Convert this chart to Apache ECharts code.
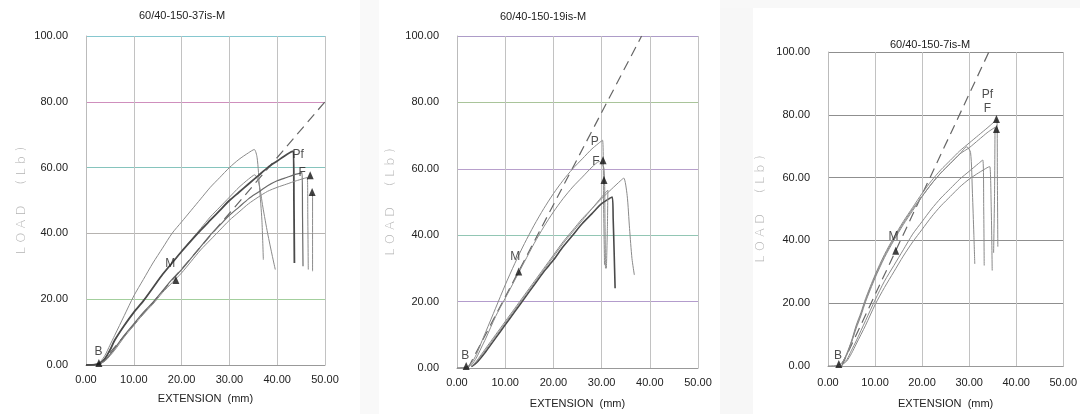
<!DOCTYPE html>
<html><head><meta charset="utf-8">
<script src="https://cdn.jsdelivr.net/npm/echarts@6/dist/echarts.min.js"></script>
<style>html,body{margin:0;padding:0;background:#fff}#c{width:1080px;height:414px}</style>
</head><body><div id="c"></div>
<script>
// ---------- data ----------
const titles = ['60/40-150-37is-M', '60/40-150-19is-M', '60/40-150-7is-M'];
const xTicks = [0, 10, 20, 30, 40, 50];
const yTicks = [0, 20, 40, 60, 80, 100];

// Panel 1 (37is)
const p1_dash = [[2.8, 0], [50, 80]];
const p1_a = [[0,0],[2,0.3],[3,1],[4,3],[5,6],[6,9],[8,15],[10,21],[12,26],[14,31],[16,35.5],[18,40],[20,43.5],[22,47],[24,50.5],[26,54],[28,57],[30,60],[32,62.5],[34,64.5],[35.2,65.5],[35.8,63],[36.3,54],[36.8,44],[37.1,32]];
const p1_b = [[0,0],[2,0.1],[3,0.6],[4,2],[5,4.5],[6,7.5],[8,12],[10,16],[12,19.5],[14,23.5],[16,27.5],[18,31],[20,34.5],[22,37.8],[24,41],[26,44],[28,47],[30,50],[32,52.5],[34,55],[36,57.5],[38,60],[40,62],[42,64],[43.4,65],[43.5,50],[43.6,31]];
const p1_c = [[3,0.6],[4,2],[5,4.5],[6,7.5],[8,12],[10,16],[12,19.5],[14,23.5],[16,27.5],[18,31],[20,34.5],[22,38],[24,41.5],[26,45],[28,48],[30,51],[32,54],[34,56.5],[35.3,57.8],[36.2,55],[37,48],[38,40],[39,33],[39.6,29]];
const p1_d = [[3,0.5],[4,1.5],[6,5],[8,9],[10,12.5],[12,16],[14,19],[16,22.5],[18,26],[20,29],[22,32.5],[24,36],[26,39.5],[28,42.5],[30,45.5],[32,48],[34,50.5],[36,52.5],[38,54.5],[40,56],[42,57],[44,58],[45.2,58.5],[45.3,45],[45.4,30]];
const p1_e = [[3,0.4],[4,1.2],[6,4.5],[8,8.5],[10,12],[12,15.5],[14,18.5],[16,22],[18,25],[20,28],[22,31.5],[24,35],[26,38],[28,41],[30,44],[32,46.5],[34,49],[36,51],[38,52.8],[40,54],[42,55],[44,56],[46.3,57],[46.4,45],[46.5,29]];
const p1_f = [[47.4, 52], [47.4, 28.5]];
const p1_tri = [[2.7,0.6],[18.8,25.8],[46.9,57.7],[47.3,52.6]];
const p1_lab = [['B',2.6,4],['M',17.6,30.8],['Pf',44.4,63.8],['F',45.2,58.4]];

// Panel 2 (19is)
const p2_dash = [[2.3, 0], [38.3, 100]];
const p2_p = [[0,0],[2,0.3],[3,1.5],[4,4],[5,7.5],[6,11],[8,18],[10,25],[12,31.5],[14,37.5],[16,43],[18,48],[20,52.5],[22,56.5],[24,60],[26,63],[28,66],[30.2,68.6],[30.4,50],[30.6,31]];
const p2_f = [[0,0],[2,0.3],[3,1],[4,3],[5,6],[6,9],[8,15.5],[10,21],[12,26.5],[14,32],[16,37.5],[18,42.5],[20,47],[22,51],[24,54.5],[26,57.5],[28,60.5],[29.5,62.2],[30.5,60],[30.7,45],[30.8,30]];
const p2_l1 = [[3,0.5],[4,2],[6,6],[8,10],[10,14],[12,18],[14,22],[16,26],[18,30],[20,34],[22,38],[24,41.5],[26,45],[28,48],[30,51],[32,53.8],[34,56.5],[34.6,57.2],[35.3,52],[35.8,42],[36.3,33],[36.8,28]];
const p2_l2 = [[3,0.4],[4,1.5],[6,5],[8,9],[10,13],[12,17],[14,21],[16,25],[18,29],[20,32.5],[22,36.5],[24,40],[26,43.5],[28,46.5],[30,49.5],[32.2,51.5],[32.4,45],[32.6,35],[32.8,24]];
const p2_l3 = [[3,0.5],[4,1.8],[6,5.5],[8,9.5],[10,13.5],[12,17.5],[14,21.5],[16,25.5],[18,29.5],[20,33.5],[22,37.5],[24,41],[26,44.5],[28,48],[30,51.5],[31.3,53.6],[31.2,42],[31,30]];
const p2_tri = [[1.9,0.6],[12.8,29.1],[30.3,62.6],[30.5,56.6]];
const p2_lab = [['B',1.7,3.8],['M',12.1,33.5],['P',28.6,68.2],['F',28.8,62]];

// Panel 3 (7is)
const p3_dash = [[2.9, 0], [34.2, 100]];
const p3_t1 = [[0,0],[2,0.2],[3,1],[4,4],[5,8],[6,13],[7,17],[8,21.5],[10,29],[12,35.5],[14,41],[16,46],[18,50.5],[20,55],[22,59],[24,62.5],[26,65.5],[28,68.5],[30,71],[32,73.5],[34,76],[35.9,78.5],[36,60],[36.1,38]];
const p3_t2 = [[3,1],[4,3.5],[5,7.5],[6,12],[7,16],[8,20.5],[10,28],[12,34.5],[14,40],[16,45],[18,49.5],[20,54],[22,58],[24,61.5],[26,64.5],[28,67.5],[30,69.5],[32,72],[34,74.5],[35.5,76],[35.4,55],[35.2,36]];
const p3_t3 = [[3,1],[4,3.8],[5,7.8],[6,12.5],[7,16.5],[8,21],[10,28.5],[12,35],[14,40.5],[16,45.5],[18,50],[20,54],[22,58],[24,61.5],[26,64.5],[28,67.5],[29.5,69.8],[30.3,68],[30.7,55],[31,42],[31.2,32.5]];
const p3_l1 = [[3,0.5],[4,2],[5,5],[6,8],[8,14.5],[10,21],[12,27],[14,32],[16,37],[18,42],[20,46],[22,50],[24,53.5],[26,56.5],[28,59.5],[30,62],[32,64.5],[32.9,65.6],[33.1,50],[33.2,32]];
const p3_l2 = [[3,0.4],[4,1.6],[5,4],[6,7],[8,13],[10,19.5],[12,25],[14,30],[16,35],[18,39.5],[20,43.5],[22,47.5],[24,51],[26,54],[28,57],[30,59.5],[32,61.5],[34,63.3],[34.4,63.5],[34.7,50],[34.9,30.4]];
const p3_tri = [[2.3,0.6],[14.4,36.7],[35.8,78.7],[35.8,75.5]];
const p3_lab = [['B',2.1,3.4],['M',13.9,41.2],['Pf',33.9,86.5],['F',33.9,82]];

// ---------- layout ----------
const grids = [
  {left: 86, width: 239, top: 36, height: 329},
  {left: 457, width: 241, top: 36, height: 332},
  {left: 828, width: 250, top: 52, height: 318}
];
const titlePos = [[177, 5], [538, 6], [925, 34]];
const yNameGap = [58, 60, 61];
const xNameGap = [28, 30, 32];
const xLabelMargin = [9, 9, 11];
const hGridColors = [
  ['#b7a2cf','#a3cf9d','#b6b3b0','#86c4bd','#cf8fbd','#86c7cf'],
  ['#b7a6cc','#b39ccc','#92c6b4','#b8a0cc','#a9c49a','#ad9cc8'],
  ['#8f8f8f','#8f8f8f','#8f8f8f','#8f8f8f','#8f8f8f','#8f8f8f']
];
const FONT = '"Liberation Sans", Arial, sans-serif';

const option = {
  backgroundColor: '#ffffff',
  animation: false,
  graphic: [
    {type: 'rect', shape: {x: 720, y: 0, width: 33, height: 414}, style: {fill: '#f7f7f7'}, silent: true, z: -10},
    {type: 'rect', shape: {x: 720, y: 0, width: 360, height: 8}, style: {fill: '#f8f8f8'}, silent: true, z: -10},
    {type: 'rect', shape: {x: 360, y: 0, width: 19, height: 414}, style: {fill: '#f9f9f9'}, silent: true, z: -10}
  ],
  title: titles.map((t, i) => ({
    text: t, left: titlePos[i][0], top: titlePos[i][1], textAlign: 'center',
    textStyle: {fontFamily: FONT, fontSize: 11, fontWeight: 'normal', color: '#222'}
  })),
  grid: grids,
  xAxis: grids.map((g, i) => ({
    type: 'value', gridIndex: i, min: 0, max: 50, interval: 10,
    name: 'EXTENSION  (mm)', nameLocation: 'middle', nameGap: xNameGap[i],
    nameTextStyle: {fontFamily: FONT, fontSize: 11, color: '#222'},
    axisLine: {lineStyle: {color: '#999'}}, axisTick: {show: false},
    axisLabel: {fontFamily: FONT, fontSize: 11, color: '#222', margin: xLabelMargin[i], formatter: v => v.toFixed(2)},
    splitLine: {show: true, lineStyle: {color: '#c2c2c2', width: 1}}
  })),
  yAxis: grids.map((g, i) => ({
    type: 'value', gridIndex: i, min: 0, max: 100, interval: 20,
    name: 'L O A D     ( L b )', nameLocation: 'middle', nameGap: yNameGap[i], nameRotate: 90,
    nameTextStyle: {fontFamily: '"DejaVu Sans", sans-serif', fontSize: 13, color: '#b3b3b3', fontWeight: 'lighter'},
    axisLine: {show: true, lineStyle: {color: '#bbb'}}, axisTick: {show: false},
    axisLabel: {fontFamily: FONT, fontSize: 11, color: '#222', margin: 18, formatter: v => v.toFixed(2)},
    splitLine: {show: true, lineStyle: {color: hGridColors[i], width: 1}}
  })),
  series: []
};

function line(data, gi, color, width, dashed) {
  option.series.push({
    type: 'line', xAxisIndex: gi, yAxisIndex: gi, data: data, showSymbol: false, smooth: 0.25,
    lineStyle: {color: color, width: width, type: dashed ? [10, 6] : 'solid'}, silent: true
  });
}
function tris(data, gi) {
  option.series.push({
    type: 'scatter', xAxisIndex: gi, yAxisIndex: gi, data: data,
    symbol: 'triangle', symbolSize: [7, 8], itemStyle: {color: '#111'}, silent: true, z: 5
  });
}
function labels(list, gi) {
  option.series.push({
    type: 'scatter', xAxisIndex: gi, yAxisIndex: gi, symbolSize: 0,
    data: list.map(l => ({value: [l[1], l[2]], name: l[0]})),
    label: {show: true, position: 'inside', formatter: p => p.name,
      fontFamily: FONT, fontSize: 12, color: '#222'}, silent: true, z: 6
  });
}

const thin = '#8a8a8a', dark = '#4a4a4a';
// panel 1
line(p1_dash, 0, '#666', 1.2, true);
line(p1_a, 0, thin, 1, false);
line(p1_c, 0, thin, 1, false);
line(p1_b, 0, dark, 1.8, false);
line(p1_d, 0, '#6a6a6a', 1.2, false);
line(p1_e, 0, thin, 1, false);
line(p1_f, 0, thin, 1, false);
tris(p1_tri, 0); labels(p1_lab, 0);
// panel 2
line(p2_dash, 1, '#666', 1.2, true);
line(p2_p, 1, thin, 1, false);
line(p2_f, 1, thin, 1, false);
line(p2_l1, 1, thin, 1, false);
line(p2_l2, 1, dark, 1.6, false);
line(p2_l3, 1, thin, 1, false);
tris(p2_tri, 1); labels(p2_lab, 1);
// panel 3
line(p3_dash, 2, '#666', 1.2, true);
line(p3_t1, 2, thin, 1, false);
line(p3_t2, 2, thin, 1, false);
line(p3_t3, 2, thin, 1, false);
line(p3_l1, 2, thin, 1, false);
line(p3_l2, 2, thin, 1, false);
tris(p3_tri, 2); labels(p3_lab, 2);

const chart = echarts.init(document.getElementById('c'));
chart.setOption(option);
</script></body></html>
